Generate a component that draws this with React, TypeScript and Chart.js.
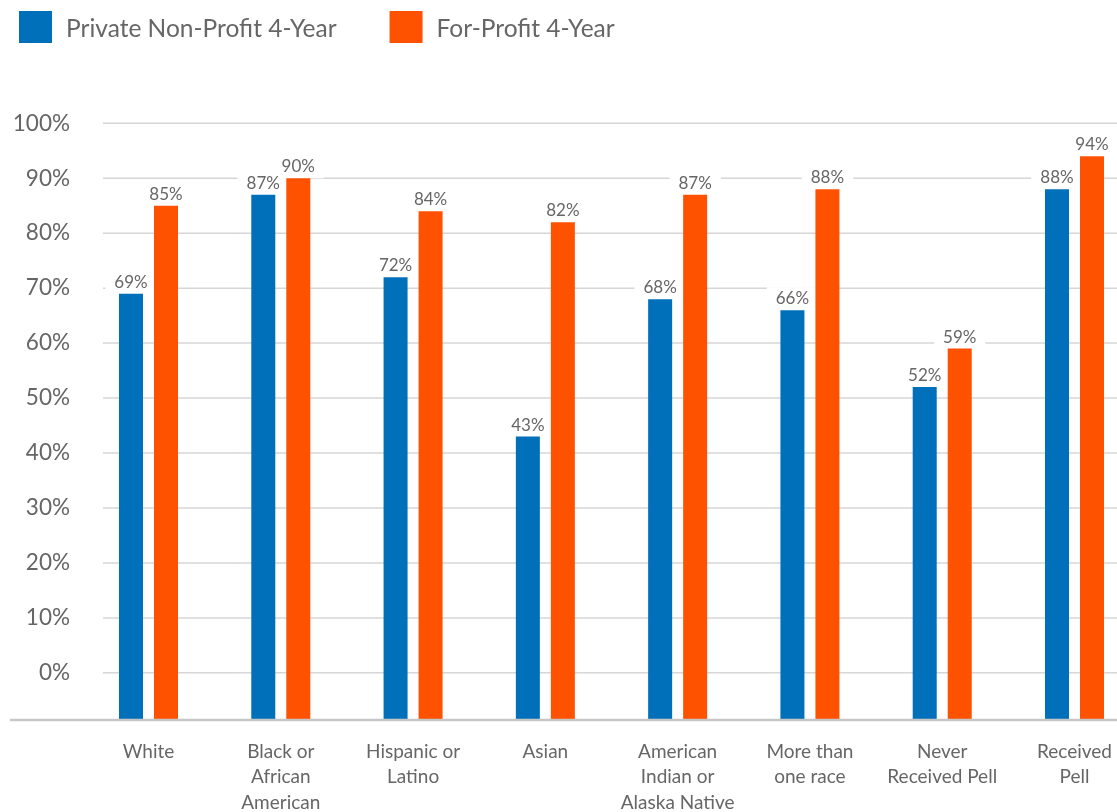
import React, { useEffect, useRef } from 'react';
import { Chart, registerables } from 'chart.js';

Chart.register(...registerables);

const categories: string[][] = [
  ['White'],
  ['Black or', 'African', 'American'],
  ['Hispanic or', 'Latino'],
  ['Asian'],
  ['American', 'Indian or', 'Alaska Native'],
  ['More than', 'one race'],
  ['Never', 'Received Pell'],
  ['Received', 'Pell'],
];
const seriesNames = ['Private Non-Profit 4-Year', 'For-Profit 4-Year'];
const privateNonProfit = [69, 87, 72, 43, 68, 66, 52, 88];
const forProfit = [85, 90, 84, 82, 87, 88, 59, 94];
const yTicks = [0, 10, 20, 30, 40, 50, 60, 70, 80, 90, 100];
const seriesColors = ['#0070BA', '#FF5200'];
const AXIS_MIN = -8.4;
const AXIS_MAX = 100;

const FONT = 'Lato, "Open Sans", "Noto Sans", sans-serif';
const TEXT_COLOR = '#666666';

const decorPlugin = {
  id: 'decor',
  beforeDatasetsDraw(chart: any) {
    const { ctx, scales } = chart;
    const y = scales.y;
    ctx.save();
    // horizontal gridlines
    ctx.strokeStyle = '#d6d6d6';
    ctx.lineWidth = 1.5;
    for (const v of yTicks) {
      const py = y.getPixelForValue(v);
      ctx.beginPath();
      ctx.moveTo(103, py);
      ctx.lineTo(chart.width, py);
      ctx.stroke();
    }
    // white backgrounds behind data labels
    ctx.font = `17px ${FONT}`;
    ctx.fillStyle = '#ffffff';
    chart.data.datasets.forEach((ds: any, di: number) => {
      const meta = chart.getDatasetMeta(di);
      meta.data.forEach((bar: any, i: number) => {
        const text = `${ds.data[i]}%`;
        const w = ctx.measureText(text).width;
        const baseLine = bar.y - 6;
        ctx.fillRect(bar.x - w / 2 - 9, baseLine - 17, w + 18, 23);
      });
    });
    ctx.restore();
  },
  afterDatasetsDraw(chart: any) {
    const { ctx, chartArea } = chart;
    ctx.save();
    // bottom axis line
    ctx.strokeStyle = '#c6c6c6';
    ctx.lineWidth = 2.5;
    ctx.beginPath();
    ctx.moveTo(10, chartArea.bottom + 1);
    ctx.lineTo(chart.width, chartArea.bottom + 1);
    ctx.stroke();
    // data labels
    ctx.font = `17px ${FONT}`;
    ctx.fillStyle = TEXT_COLOR;
    ctx.textAlign = 'center';
    ctx.textBaseline = 'alphabetic';
    chart.data.datasets.forEach((ds: any, di: number) => {
      const meta = chart.getDatasetMeta(di);
      meta.data.forEach((bar: any, i: number) => {
        ctx.fillText(`${ds.data[i]}%`, bar.x, bar.y - 6);
      });
    });
    // legend
    ctx.font = `24.5px ${FONT}`;
    ctx.textAlign = 'left';
    let x = 19;
    chart.data.datasets.forEach((ds: any) => {
      ctx.fillStyle = ds.backgroundColor;
      ctx.fillRect(x, 11, 33, 32);
      ctx.fillStyle = TEXT_COLOR;
      ctx.fillText(ds.label, x + 47, 37);
      x += 47 + ctx.measureText(ds.label).width + 53;
    });
    ctx.restore();
  },
};

export default function App() {
  const canvasRef = useRef<HTMLCanvasElement | null>(null);

  useEffect(() => {
    const canvas = canvasRef.current;
    if (!canvas) return;
    const chart = new Chart(canvas, {
      type: 'bar',
      data: {
        labels: categories as any,
        datasets: [
          {
            label: seriesNames[0],
            data: privateNonProfit,
            backgroundColor: seriesColors[0],
            base: AXIS_MIN,
            clip: false,
            categoryPercentage: 0.5292,
            barPercentage: 0.6857,
          } as any,
          {
            label: seriesNames[1],
            data: forProfit,
            backgroundColor: seriesColors[1],
            base: AXIS_MIN,
            clip: false,
            categoryPercentage: 0.5292,
            barPercentage: 0.6857,
          } as any,
        ],
      },
      options: {
        responsive: false,
        animation: false,
        devicePixelRatio: 1,
        layout: { padding: { top: 123.3, right: 42.5, bottom: 0, left: 0 } },
        plugins: {
          legend: { display: false },
          tooltip: { enabled: false },
          title: { display: false },
        },
        scales: {
          x: {
            type: 'category',
            offset: false,
            grid: { display: false, drawTicks: false },
            border: { display: false },
            ticks: {
              color: TEXT_COLOR,
              font: { family: FONT, size: 19, lineHeight: 1.34 },
              padding: 20,
              maxRotation: 0,
              minRotation: 0,
              autoSkip: false,
            },
            afterFit: (s: any) => {
              s.height = 93;
              s.paddingLeft = 0;
              s.paddingRight = 0;
            },
          },
          y: {
            type: 'linear',
            min: AXIS_MIN,
            max: AXIS_MAX,
            grid: { display: false, drawTicks: false },
            border: { display: false },
            afterBuildTicks: (s: any) => {
              s.ticks = yTicks.map((v) => ({ value: v }));
            },
            ticks: {
              color: TEXT_COLOR,
              font: { family: FONT, size: 22.5 },
              padding: 78.5,
              callback: (v: any) => `${v}%`,
            },
            afterFit: (s: any) => {
              s.width = 148.5;
            },
          },
        },
      } as any,
      plugins: [decorPlugin],
    });
    return () => chart.destroy();
  }, []);

  return (
    <div style={{ position: 'fixed', left: 0, top: 0, width: 1117, height: 812, background: '#fff' }}>
      <canvas ref={canvasRef} width={1117} height={812} style={{ display: 'block' }} />
    </div>
  );
}
